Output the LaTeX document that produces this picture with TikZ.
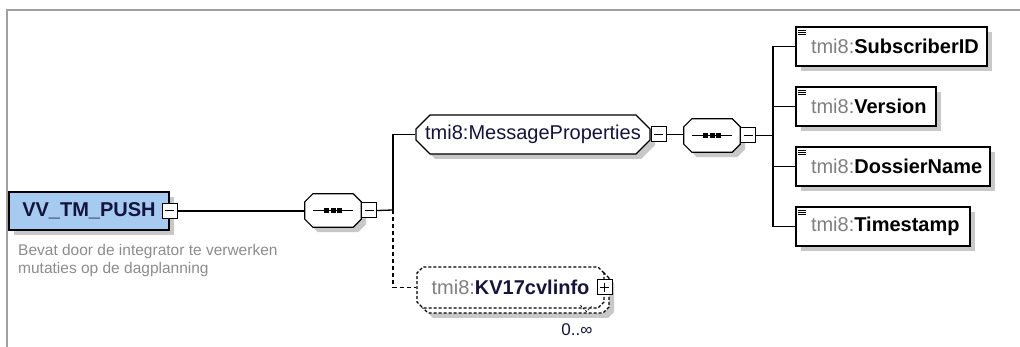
\documentclass[tikz,border=0pt]{standalone}
\usepackage{fontspec}
\setmainfont{Liberation Sans}
\usetikzlibrary{shapes.misc,shadows}
\definecolor{framegray}{HTML}{A0A0A0}
\definecolor{shadowgray}{HTML}{C8C8C8}
\definecolor{rootblue}{HTML}{A6CAF0}
\definecolor{navy}{HTML}{14143C}
\definecolor{prefixgray}{HTML}{808080}
\definecolor{descgray}{HTML}{8C8C8C}
\newcommand\xsoctpath[2]{([xshift=#2]#1.north west) -- ([xshift=-#2]#1.north east) -- ([yshift=-#2]#1.north east) -- ([yshift=#2]#1.south east) -- ([xshift=-#2]#1.south east) -- ([xshift=#2]#1.south west) -- ([yshift=#2]#1.south west) -- ([yshift=-#2]#1.north west) -- cycle}
\newcommand\xsseqsym[1]{%
  \draw[line width=1pt] ([xshift=-20pt]#1.center) -- ([xshift=20pt]#1.center);
  \foreach \d in {-6.5,0,6.5} \fill ([xshift=\d pt]#1.center) +(-2.5pt,-2.2pt) rectangle +(2.5pt,2.2pt);}
\begin{document}
\begin{tikzpicture}[x=1pt,y=-1pt,
  bigfont/.style={font=\fontsize{20}{24}\selectfont},
  shad/.style={general shadow={fill=shadowgray, shadow xshift=5pt, shadow yshift=-5pt}},
  conn/.style={line width=1.3pt, black},
  dconn/.style={line width=1.3pt, black, dash pattern=on 4pt off 3pt},
  rootbox/.style={rectangle, draw=black, line width=1.5pt, fill=rootblue, shad,
    minimum width=160pt, minimum height=38pt, inner sep=0pt, bigfont, text=navy},
  togglebox/.style={rectangle, draw=black, fill=white, line width=1pt,
    minimum width=15pt, minimum height=15pt, inner sep=0pt},
  minusbox/.style={togglebox, path picture={
    \draw[line width=1pt] ([xshift=3pt]path picture bounding box.west) -- ([xshift=-3pt]path picture bounding box.east);}},
  plusbox/.style={togglebox, path picture={
    \draw[line width=1pt] ([xshift=3pt]path picture bounding box.west) -- ([xshift=-3pt]path picture bounding box.east);
    \draw[line width=1pt] ([yshift=-3pt]path picture bounding box.north) -- ([yshift=3pt]path picture bounding box.south);}},
  seqframe/.style={rectangle, minimum width=56pt, minimum height=33pt, inner sep=0pt},
  seqline/.style={draw=black, line width=1.2pt, fill=white, shad},
  mpbox/.style={chamfered rectangle, chamfered rectangle xsep=7pt, chamfered rectangle ysep=7pt,
    draw=black, line width=1.2pt, fill=white, shad, minimum width=234pt, minimum height=39pt, inner sep=0pt,
    bigfont, text=navy},
  elembox/.style={rectangle, draw=black, line width=1.5pt, fill=white, shad, minimum height=39pt,
    inner xsep=15pt, inner ysep=0pt, align=left, bigfont,
    path picture={
      \foreach \k in {3,5,7} \draw[line width=0.9pt] ([shift={(2pt,-\k pt)}]path picture bounding box.north west) -- ++(8pt,0);}},
  kvbox/.style={chamfered rectangle, chamfered rectangle xsep=3pt, chamfered rectangle ysep=3pt,
    draw=black, line width=1.2pt, dash pattern=on 3pt off 2pt, fill=white,
    preaction={fill=shadowgray, draw=none, transform canvas={shift={(10pt,-10pt)}}},
    preaction={fill=white, draw=black, line width=1.2pt, dash pattern=on 3pt off 2pt, transform canvas={shift={(5pt,-5pt)}}},
    minimum width=187pt, minimum height=41pt, inner sep=0pt, bigfont},
  desc/.style={font=\fontsize{15.5}{18}\selectfont, text=descgray, align=left, inner sep=0pt},
  occ/.style={font=\fontsize{17}{19}\selectfont, text=navy, inner sep=0pt}
]
\useasboundingbox (0,0) rectangle (1020,347);
% frame
\draw[framegray, line width=1.5pt] (1020,10) -- (7,10) -- (7,347);

% root
\node[rootbox] (root) at (89,211) {\bfseries VV\_TM\_PUSH};
\node[minusbox] (rootm) at (root.east) {};
\node[desc, anchor=north west] (desc) at (18,243.7) {Bevat door de integrator te verwerken\\mutaties op de dagplanning};

% first sequence
\node[seqframe] (seq1) at (333,210.5) {};
\path[seqline] \xsoctpath{seq1}{8pt};
\xsseqsym{seq1}
\node[minusbox, anchor=west] (seq1m) at (seq1.east) {};
\coordinate (j1) at (393,210);

% message properties
\node[mpbox] (mp) at (533,134.5) {tmi8:MessageProperties};
\node[minusbox, anchor=west] (mpm) at (mp.east) {};

% second sequence
\node[seqframe] (seq2) at (712,135.5) {};
\path[seqline] \xsoctpath{seq2}{8pt};
\xsseqsym{seq2}
\node[minusbox, anchor=west] (seq2m) at (seq2.east) {};
\coordinate (j2) at (773,135.5);

% child elements
\node[elembox, text width=161pt] (sub) at (891.5,46.5) {\textcolor{prefixgray}{tmi8:}\textbf{SubscriberID}};
\node[elembox, text width=110pt] (ver) at (866,106.5) {\textcolor{prefixgray}{tmi8:}\textbf{Version}};
\node[elembox, text width=164pt] (dos) at (893,166.5) {\textcolor{prefixgray}{tmi8:}\textbf{DossierName}};
\node[elembox, text width=144pt] (tim) at (883,226.5) {\textcolor{prefixgray}{tmi8:}\textbf{Timestamp}};

% KV17
\node[kvbox] (kv) at (510.5,287.5) {\textcolor{prefixgray}{tmi8:}\textcolor{navy}{\textbf{KV17cvlinfo}}};
\node[plusbox] (kvp) at (kv.east) {};
\node[occ] (occ) at (577,330) {0..∞};
\draw[line width=0.8pt, dash pattern=on 2pt off 1.5pt] ([xshift=-21pt]kv.south east) -- ++(6,6) -- ++(5,-5);

% connectors
\draw[conn] (rootm.east) -- (seq1.west |- rootm.east);
\draw[conn] (seq1m.east) -- (j1);
\draw[conn] (j1) |- (mp.west);
\draw[dconn] (j1) |- (kv.west);
\draw[conn] (mpm.east) -- (seq2.west |- mpm.east);
\draw[conn] (seq2m.east) -- (j2);
\draw[conn] (j2) |- (sub.west);
\draw[conn] (j2) |- (ver.west);
\draw[conn] (j2) |- (dos.west);
\draw[conn] (j2) |- (tim.west);
\end{tikzpicture}
\end{document}
